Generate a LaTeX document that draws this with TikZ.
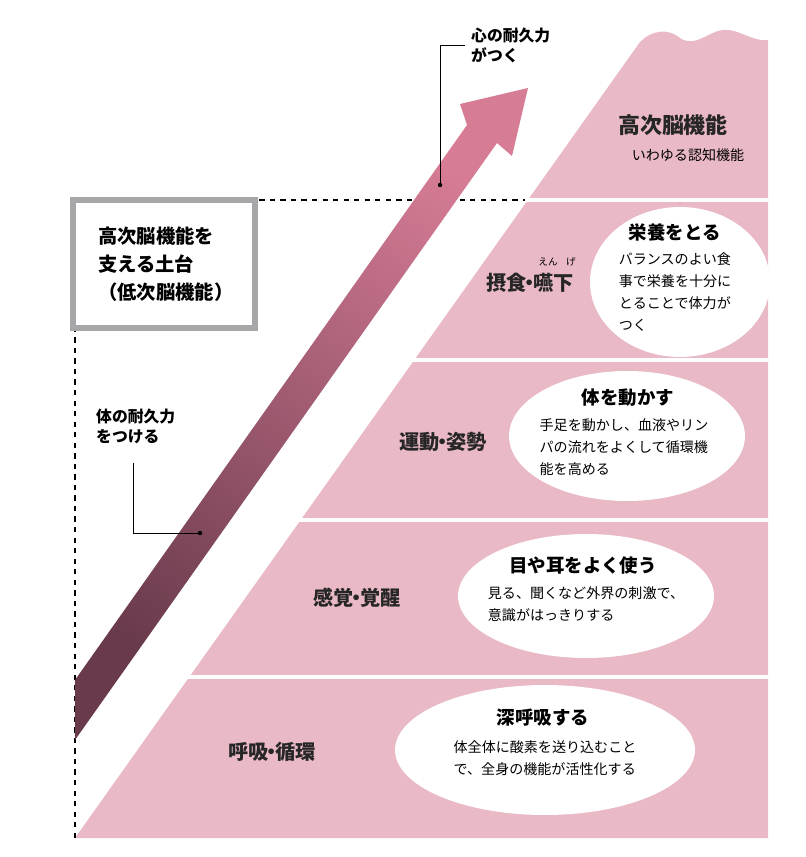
\documentclass[tikz,border=0pt]{standalone}
\usepackage{fontspec}
\setmainfont{Noto Sans CJK JP}
\usepackage{tikz}
\usetikzlibrary{arrows.meta, backgrounds, positioning, shapes.geometric}

\definecolor{mtpink}{HTML}{E9B9C6}
\definecolor{arrowtop}{HTML}{D67C95}
\definecolor{arrowbot}{HTML}{693A4C}
\definecolor{boxgray}{HTML}{A7A7A9}

\newcommand{\tdot}{\kern-0.35em・\kern-0.35em}

\tikzset{
    band/.style={font=\fontsize{11.5}{13}\selectfont\bfseries, text=black!85},
    bubble/.style={ellipse, fill=white, inner sep=0pt},
    head/.style={font=\fontsize{10.5}{12}\selectfont\bfseries},
    body/.style={font=\fontsize{8}{12.5}\selectfont, align=left},
    callout/.style={font=\fontsize{9}{11}\selectfont\bfseries, align=left, anchor=north west},
}

\begin{document}
\begin{tikzpicture}[x=0.02cm, y=-0.02cm]
    \useasboundingbox (0,0) rectangle (805,857);

    % Draw the mountain
    \fill[mtpink] (75,838) -- (640,42) .. controls (652,30) and (668,28) .. (680,38)
        .. controls (695,48) and (708,32) .. (722,30) .. controls (738,28) and (752,42) .. (768,40)
        -- (768,838) -- cycle;

    % Separate the bands
    \foreach \y/\x in {200/525, 360/412, 520/299, 677/188}
        \draw[white, line width=2.5pt] (\x-5,\y) -- (770,\y);

    % Base outline (dashed)
    \draw[dashed, thick] (75,838) -- (75,200) -- (525,200);

    % Gradient arrow
    \shade[top color=arrowtop, bottom color=arrowbot, shading angle=-35]
        (75,680) -- (467,125) -- (460,104) -- (528,88) -- (512,156) -- (497,143)
        -- (75,740) -- cycle;

    % Box on the left
    \node[draw=boxgray, line width=3pt, fill=white, minimum width=3.64cm,
        minimum height=2.56cm] (base) at (164,264) {};
    \node[font=\fontsize{11}{16}\selectfont\bfseries, align=left, anchor=west] (basetxt)
        at (92,264) {高次脳機能を\\支える土台\\（低次脳機能）};

    % Callouts
    \node[callout] (mind) at (465,22) {心の耐久力\\がつく};
    \coordinate (mdot) at (440,185);
    \fill (mdot) circle (2.2);
    \draw (mdot) -- (440,45) -- (mind.west |- 440,45);
    \node[callout] (body) at (90,403) {体の耐久力\\をつける};
    \coordinate (bdot) at (200,533);
    \fill (bdot) circle (2.2);
    \draw (bdot) -- (133,533) -- (133,463);

    % Band labels
    \node[band, font=\fontsize{12.5}{14}\selectfont\bfseries] (high) at (673,125) {高次脳機能};
    \node[font=\fontsize{8}{10}\selectfont] (highsub) at (688,155) {いわゆる認知機能};
    \node[band] (eat) at (530,283) {摂食\tdot 嚥下};
    \node[font=\fontsize{5.5}{6}\selectfont] (ruby1) at (548,262) {えん};
    \node[font=\fontsize{5.5}{6}\selectfont] (ruby2) at (571,262) {げ};
    \node[band] (move) at (443,442) {運動\tdot 姿勢};
    \node[band] (sense) at (357,598) {感覚\tdot 覚醒};
    \node[band] (breath) at (272,752) {呼吸\tdot 循環};

    % Bubbles
    \node[bubble, minimum width=3.6cm, minimum height=3cm] (b1) at (680,282) {};
    \node[head] at (675,232) {栄養をとる};
    \node[body] at (675,292) {バランスのよい食\\事で栄養を十分に\\とることで体力が\\つく};

    \node[bubble, minimum width=4.72cm, minimum height=2.6cm] (b2) at (627,436) {};
    \node[head] at (628,398) {体を動かす};
    \node[body] at (624,447) {手足を動かし、血液やリン\\パの流れをよくして循環機\\能を高める};

    \node[bubble, minimum width=5.12cm, minimum height=2.48cm] (b3) at (586,596) {};
    \node[head] at (583,565) {目や耳をよく使う};
    \node[body] at (586,604) {見る、聞くなど外界の刺激で、\\意識がはっきりする};

    \node[bubble, minimum width=6cm, minimum height=2.6cm] (b4) at (545,750) {};
    \node[head] at (543,718) {深呼吸する};
    \node[body] at (545,758) {体全体に酸素を送り込むこと\\で、全身の機能が活性化する};
\end{tikzpicture}
\end{document}
